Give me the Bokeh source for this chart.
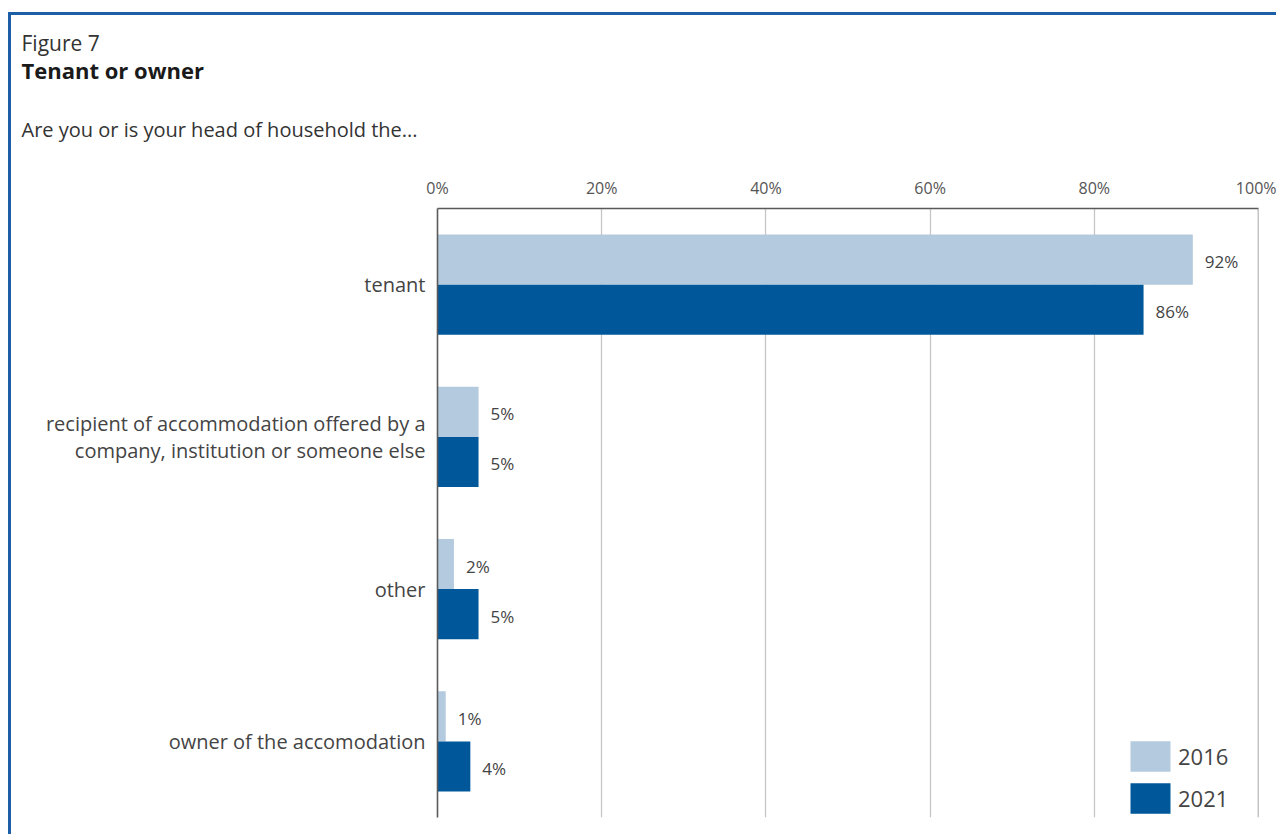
from bokeh.plotting import figure
from bokeh.models import (ColumnDataSource, FactorRange, Range1d, Title,
                          Legend, LegendItem, FixedTicker, Span)
from bokeh.transform import dodge
from bokeh.core.properties import value
from bokeh.embed import file_html
from bokeh.resources import INLINE

# ---- data ----
categories = [
    "tenant",
    "recipient of accommodation offered by a\ncompany, institution or someone else",
    "other",
    "owner of the accomodation",
]
years = ["2016", "2021"]
values_2016 = [92, 5, 2, 1]
values_2021 = [86, 5, 5, 4]
x_ticks = [0, 20, 40, 60, 80, 100]
x_tick_labels = ["0%", "20%", "40%", "60%", "80%", "100%"]

FONT = "Open Sans"
LIGHT = "#b3cadf"
DARK = "#00589b"
BORDER = "#1c5fa6"

# canvas placed at page (11, 15) after the css margin + border
W, H = 1268, 822

source = ColumnDataSource(dict(
    cat=categories,
    v16=values_2016,
    v21=values_2021,
    l16=[f"{v}%" for v in values_2016],
    l21=[f"{v}%" for v in values_2021],
))

p = figure(width=W, height=H,
           y_range=FactorRange(factors=list(reversed(categories))),
           x_range=Range1d(0, 100),
           x_axis_location="above",
           output_backend="svg", toolbar_location=None,
           min_border_left=426, min_border_right=21,
           min_border_top=193, min_border_bottom=20)
p.outline_line_color = None
p.background_fill_color = "white"
p.border_fill_color = "white"
p.styles = {"margin-left": "8px", "margin-top": "12px",
            "border-left": f"3px solid {BORDER}", "border-top": f"3px solid {BORDER}"}

# x axis (top)
xa = p.xaxis[0]
xa.ticker = FixedTicker(ticks=x_ticks)
xa.major_label_overrides = {t: l for t, l in zip(x_ticks, x_tick_labels)}
xa.axis_line_color = "#5a5a5a"
xa.axis_line_width = 1.6
xa.major_tick_line_color = None
xa.minor_tick_line_color = None
xa.major_label_text_font = FONT
xa.major_label_text_font_size = "16px"
xa.major_label_text_color = "#555555"
xa.major_label_standoff = 4

# y axis (left)
ya = p.yaxis[0]
ya.axis_line_color = "#5a5a5a"
ya.axis_line_width = 1.6
ya.major_tick_line_color = None
ya.minor_tick_line_color = None
ya.major_label_text_font = FONT
ya.major_label_text_font_size = "20px"
ya.major_label_text_color = "#444444"
ya.major_label_text_line_height = 1.0
ya.major_label_standoff = 6
ya.major_label_text_align = "right"

p.xgrid.ticker = FixedTicker(ticks=x_ticks)
p.xgrid.grid_line_color = "#c6c6c6"
p.xgrid.grid_line_width = 1.3
p.ygrid.grid_line_color = None
p.add_layout(Span(location=100, dimension="height", line_color="#8a8a8a", line_width=1.5))

r16 = p.hbar(y=dodge("cat", 0.165, range=p.y_range), left=0, right="v16", height=0.33,
             source=source, fill_color=LIGHT, line_color=None)
r21 = p.hbar(y=dodge("cat", -0.165, range=p.y_range), left=0, right="v21", height=0.33,
             source=source, fill_color=DARK, line_color=None)

p.text(x="v16", y=dodge("cat", 0.165, range=p.y_range), text="l16", source=source,
       x_offset=12, y_offset=2, text_baseline="middle", text_align="left",
       text_font=value(FONT), text_font_size="17px", text_color="#444444")
p.text(x="v21", y=dodge("cat", -0.165, range=p.y_range), text="l21", source=source,
       x_offset=12, y_offset=2, text_baseline="middle", text_align="left",
       text_font=value(FONT), text_font_size="17px", text_color="#444444")

legend = Legend(items=[LegendItem(label=years[0], renderers=[r16]),
                       LegendItem(label=years[1], renderers=[r21])],
                location=(688, 0), orientation="vertical",
                glyph_width=50, glyph_height=38, label_standoff=3, spacing=4,
                padding=0, margin=0,
                label_text_font=FONT, label_text_font_size="22px",
                label_text_color="#444444",
                background_fill_alpha=0, border_line_color=None)
p.add_layout(legend)

# titles (stacked above the top axis; first added = closest to the axis)
OFF = 10 - 426
p.add_layout(Title(text="Are you or is your head of household the...", align="left",
                   offset=OFF, standoff=61, text_font=FONT, text_font_size="20px",
                   text_font_style="normal", text_color="#333333"), "above")
p.add_layout(Title(text="Tenant or owner", align="left", offset=OFF, standoff=-2,
                   text_font=FONT, text_font_size="22px", text_font_style="bold",
                   text_color="#1a1a1a"), "above")
p.add_layout(Title(text="Figure 7", align="left", offset=OFF, standoff=-7,
                   text_font=FONT, text_font_size="21px", text_font_style="normal",
                   text_color="#333333"), "above")

open("out.html", "w").write(file_html(p, INLINE))
